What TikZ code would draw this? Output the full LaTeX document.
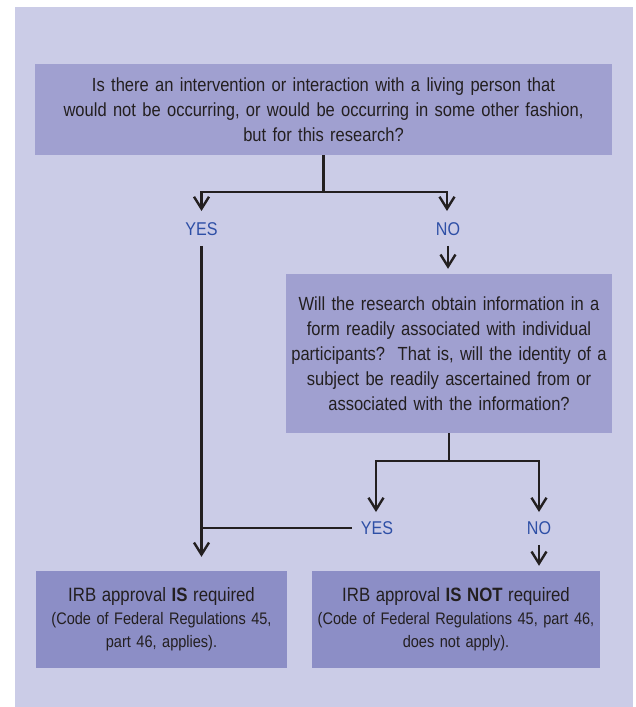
\documentclass[tikz,border=0pt]{standalone}
\usepackage{fontspec}
\setmainfont[FakeStretch=0.87]{Liberation Sans}
\usetikzlibrary{arrows.meta}
\definecolor{panel}{HTML}{CBCCE7}
\definecolor{qbox}{HTML}{A0A0D0}
\definecolor{abox}{HTML}{8C8EC6}
\definecolor{ink}{HTML}{231F20}
\definecolor{lbl}{HTML}{2E4FA6}
\tikzset{
  qnode/.style={fill=qbox, inner sep=0pt, align=center, text=ink,
    font=\fontsize{19}{25}\selectfont},
  anode/.style={fill=abox, inner sep=0pt, align=center, text=ink,
    font=\fontsize{16.7}{23}\selectfont},
  lblnode/.style={inner sep=0pt, text=lbl, font=\fontsize{18.5}{20}\selectfont},
  conn/.style={draw=ink, line width=2.4pt},
  arr/.style={conn, -{Straight Barb[length=12pt,width=15pt]}},
}
\begin{document}
\begin{tikzpicture}[x=1pt,y=-1pt]
\useasboundingbox (0,0) rectangle (636,707);
\fill[white] (0,0) rectangle (636,707);
\fill[panel] (15,7) rectangle (633,707);

\node[qnode, minimum width=577pt, minimum height=91pt, text width=577pt] (top) at (323.5,109.5)
  {Is there an intervention or interaction with a living person that\\
   would not be occurring, or would be occurring in some other fashion,\\
   but for this research?};

\node[qnode, minimum width=326pt, minimum height=159pt, text width=326pt] (q2) at (449,353.5)
  {Will the research obtain information in a\\
   form readily associated with individual\\
   participants?\ \ That is, will the identity of a\\
   subject be readily ascertained from or\\
   associated with the information?};

\node[anode, minimum width=251pt, minimum height=97pt, text width=251pt] (left) at (161.5,619.5)
  {{\fontsize{19.3}{23}\selectfont IRB approval \textbf{IS} required}\\
   (Code of Federal Regulations 45,\\
   part 46, applies).};

\node[anode, minimum width=288pt, minimum height=97pt, text width=288pt] (right) at (456,619.5)
  {{\fontsize{19.3}{23}\selectfont IRB approval \textbf{IS NOT} required}\\
   (Code of Federal Regulations 45, part 46,\\
   does not apply).};

\node[lblnode] (yes1) at (201.5,229) {YES};
\node[lblnode] (no1) at (448,229) {NO};
\node[lblnode] (yes2) at (377,528) {YES};
\node[lblnode] (no2) at (539,528) {NO};

\coordinate (c1) at (201.5,192);
\coordinate (c2) at (447,192);
\coordinate (a1) at (201.5,211);
\coordinate (a2) at (447,211);
\coordinate (c3) at (376,461);
\coordinate (c4) at (539,461);
\coordinate (a3) at (376,512);
\coordinate (a4) at (539,512);

\draw[arr] (top.south) |- (c1) -- (a1);
\draw[arr] (top.south) |- (c2) -- (a2);
\draw[arr, shorten <=10pt, shorten >=5pt] (no1.south) -- (no1.south |- q2.north);
\draw[arr, shorten <=10pt, shorten >=14pt] (yes1.south) -- (yes1.south |- left.north);
\draw[conn, shorten <=9pt] (yes2.west) -- (yes2.west -| yes1.south);
\draw[arr] (q2.south) |- (c3) -- (a3);
\draw[arr] (q2.south) |- (c4) -- (a4);
\draw[arr, shorten <=10pt, shorten >=5pt] (no2.south) -- (no2.south |- right.north);
\end{tikzpicture}
\end{document}
